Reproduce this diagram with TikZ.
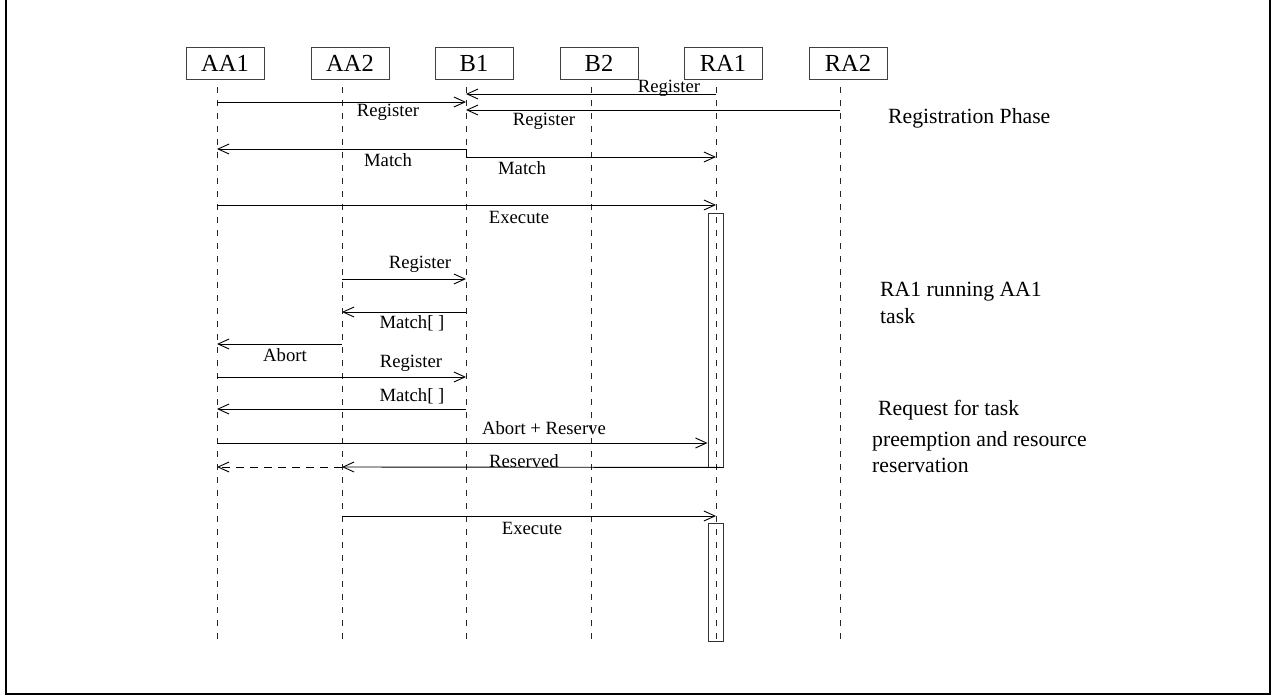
\documentclass[tikz,border=0pt]{standalone}
\usepackage{fontspec}
\setmainfont{Liberation Serif}
\usetikzlibrary{arrows.meta}
\begin{document}
\begin{tikzpicture}[x=1pt,y=-1pt,
 actor/.style={draw=black!75,line width=0.9pt,minimum width=78pt,minimum height=32pt,inner sep=0pt,font=\fontsize{24.5}{28}\selectfont},
 lifeline/.style={draw=black!85,line width=0.9pt,dash pattern=on 6pt off 7pt},
 msg/.style={line width=0.9pt,-{Straight Barb[length=11pt,width=10pt]}},
 replydash/.style={dash pattern=on 8pt off 6pt},
 lbl/.style={inner sep=0pt,font=\fontsize{18.7}{22}\selectfont},
 ann/.style={inner sep=0pt,anchor=west,font=\fontsize{21.7}{25}\selectfont},
 act/.style={draw=black!80,line width=0.9pt,minimum width=15pt,inner sep=0pt}]
\useasboundingbox (0,0) rectangle (1272,698);
\draw[line width=2pt] (6,0) -- (6,694) -- (1270,694) -- (1270,0);

% actors
\node[actor] (AA1) at (225,63) {AA1};
\node[actor] (AA2) at (350,63) {AA2};
\node[actor] (B1)  at (474,63) {B1};
\node[actor] (B2)  at (599,63) {B2};
\node[actor] (RA1) at (723,63) {RA1};
\node[actor] (RA2) at (848,63) {RA2};

% lifelines
\foreach \n/\x in {AA1/217,AA2/342,B1/466,B2/591,RA1/716,RA2/840}{
  \coordinate (\n t) at (\x,87);
  \coordinate (\n b) at (\x,641);
  \draw[lifeline] (\n t) -- (\n b);
}

% activation boxes
\node[act,minimum height=254pt] (act1) at (715.5,340) {};
\node[act,minimum height=118pt] (act2) at (716,582) {};

% messages
\draw[msg] (RA1t |- 0,94) -- (B1t |- 0,94);
\node[lbl] (l1) at (669,88) {Register};
\draw[msg] (AA1t |- 0,102) -- (B1t |- 0,102);
\node[lbl] (l2) at (388,112) {Register};
\draw[msg] (RA2t |- 0,110) -- (B1t |- 0,110);
\node[lbl] (l3) at (544,121) {Register};
\draw[msg] (B1t |- 0,157) -- (B1t |- 0,149) -- (AA1t |- 0,149);
\node[lbl] (l4) at (388,160) {Match};
\draw[msg] (B1t |- 0,157) -- (RA1t |- 0,157);
\node[lbl] (l5) at (522,168) {Match};
\draw[msg] (AA1t |- 0,205) -- (RA1t |- 0,205);
\node[lbl] (l6) at (519,217) {Execute};
\draw[msg] (AA2t |- 0,279) -- (B1t |- 0,279);
\node[lbl] (l7) at (420,264) {Register};
\draw[msg] (B1t |- 0,312) -- (AA2t |- 0,312);
\node[lbl] (l8) at (412,323) {Match[ ]};
\draw[msg] (AA2t |- 0,344) -- (AA1t |- 0,344);
\node[lbl] (l9) at (285,355) {Abort};
\draw[msg] (AA1t |- 0,377) -- (B1t |- 0,377);
\node[lbl] (l10) at (411,363) {Register};
\draw[msg] (B1t |- 0,409) -- (AA1t |- 0,409);
\node[lbl] (l11) at (412,396) {Match[ ]};
\draw[msg] (AA1t |- 0,443) -- (act1.west |- 0,443);
\node[lbl] (l12) at (544,428) {Abort + Reserve};
\draw[msg] (act1.south east) -- (AA2t |- 0,467);
\draw[msg,replydash] (AA2t |- 0,467) -- (AA1t |- 0,467);
\node[lbl] (l13) at (524,461) {Reserved};
\draw[msg] (AA2t |- 0,516) -- (RA1t |- 0,516);
\node[lbl] (l14) at (532,528) {Execute};

% annotations
\node[ann] (n1) at (888,118) {Registration Phase};
\node[ann] (n2) at (880,292) {RA1 running AA1};
\node[ann] (n3) at (880,316) {task};
\node[ann] (n4) at (878,410) {Request for task};
\node[ann] (n5) at (872,441) {preemption and resource};
\node[ann] (n6) at (872,465) {reservation};
\end{tikzpicture}
\end{document}
